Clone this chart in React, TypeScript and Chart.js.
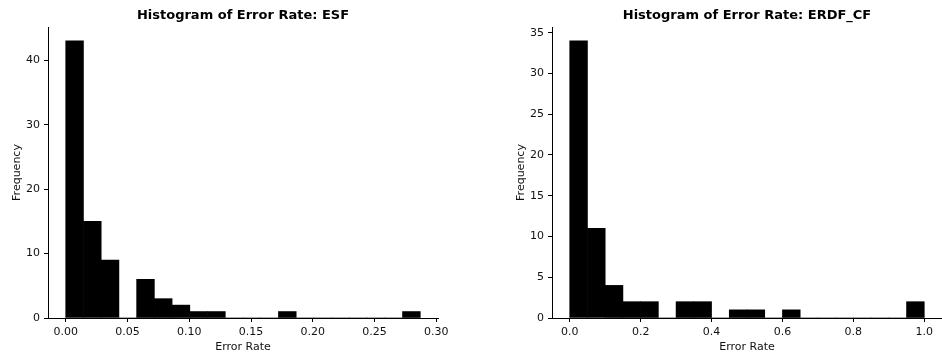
import React, { useEffect, useRef } from "react";
import { Chart, registerables } from "chart.js";
Chart.register(...registerables);

// ESF histogram (20 bins)
const esfBinStarts = [
  0.0, 0.01435, 0.0287, 0.04305, 0.0574, 0.07175, 0.0861, 0.10045, 0.1148, 0.12915,
  0.1435, 0.15785, 0.1722, 0.18655, 0.2009, 0.21525, 0.2296, 0.24395, 0.2583, 0.27265,
];
const esfBinWidth = 0.01435;
const esfCounts = [43, 15, 9, 0, 6, 3, 2, 1, 1, 0, 0, 0, 1, 0, 0, 0, 0, 0, 0, 1];
const esfXRange = [-0.01435, 0.30135];
const esfYMax = 45.15;

// ERDF_CF histogram (20 bins)
const erdfBinStarts = [
  0.0, 0.05, 0.1, 0.15, 0.2, 0.25, 0.3, 0.35, 0.4, 0.45,
  0.5, 0.55, 0.6, 0.65, 0.7, 0.75, 0.8, 0.85, 0.9, 0.95,
];
const erdfBinWidth = 0.05;
const erdfCounts = [34, 11, 4, 2, 2, 0, 2, 2, 0, 1, 1, 0, 1, 0, 0, 0, 0, 0, 0, 2];
const erdfXRange = [-0.05, 1.05];
const erdfYMax = 35.7;

const FONT = "'DejaVu Sans', sans-serif";

type HistProps = {
  title: string;
  starts: number[];
  width: number;
  counts: number[];
  xRange: number[];
  yMax: number;
  xStep: number;
  xDigits: number;
  yStep: number;
  padLeft: number;
  padRight: number;
};

function Histogram(p: HistProps) {
  const ref = useRef<HTMLCanvasElement | null>(null);
  useEffect(() => {
    if (!ref.current) return;
    const data = p.starts.map((s, i) => ({ x: s + p.width / 2, y: p.counts[i] }));
    const chart = new Chart(ref.current, {
      type: "bar",
      data: {
        datasets: [
          {
            data,
            backgroundColor: "#000000",
            borderWidth: 0,
            barPercentage: 1,
            categoryPercentage: 1,
          },
        ],
      },
      options: {
        animation: false,
        responsive: false,
        maintainAspectRatio: false,
        layout: { padding: { left: p.padLeft, right: p.padRight, top: 0, bottom: 0 } },
        plugins: {
          legend: { display: false },
          tooltip: { enabled: false },
          title: {
            display: true,
            text: p.title,
            fullSize: false,
            color: "#000",
            font: { family: FONT, size: 13, weight: "bold" },
            padding: { top: 7.5, bottom: 3.9 },
          },
        },
        scales: {
          x: {
            type: "linear",
            min: p.xRange[0],
            max: p.xRange[1],
            offset: false,
            afterFit: (s: any) => {
              s.height = 40;
            },
            grid: {
              offset: false,
              drawOnChartArea: false,
              drawTicks: true,
              tickLength: 4,
              color: "#000",
              tickWidth: 1,
            },
            border: { display: true, color: "#000", width: 1 },
            ticks: {
              stepSize: p.xStep,
              includeBounds: false,
              maxRotation: 0,
              autoSkip: false,
              color: "#111",
              padding: 4,
              font: { family: FONT, size: 11 },
              callback: (v: any) => Number(v).toFixed(p.xDigits),
            },
            title: {
              display: true,
              text: "Error Rate",
              color: "#111",
              font: { family: FONT, size: 11 },
              padding: { top: 0, bottom: 4.6 },
            },
          },
          y: {
            type: "linear",
            min: 0,
            max: p.yMax,
            afterFit: (s: any) => {
              s.width = 48;
            },
            grid: {
              drawOnChartArea: false,
              drawTicks: true,
              tickLength: 4,
              color: "#000",
              tickWidth: 1,
            },
            border: { display: true, color: "#000", width: 1 },
            ticks: {
              stepSize: p.yStep,
              includeBounds: false,
              color: "#111",
              padding: 4,
              font: { family: FONT, size: 11 },
            },
            title: {
              display: true,
              text: "Frequency",
              color: "#111",
              font: { family: FONT, size: 11 },
              padding: { top: 10.4, bottom: 0 },
            },
          },
        },
      } as any,
    });
    return () => chart.destroy();
  }, []);
  return (
    <canvas
      ref={ref}
      width={471}
      height={358}
      style={{ width: 471, height: 358, display: "block" }}
    />
  );
}

export default function App() {
  return (
    <div
      style={{
        position: "absolute",
        left: 0,
        top: 0,
        width: 942,
        height: 358,
        display: "flex",
        background: "#fff",
      }}
    >
      <Histogram
        title="Histogram of Error Rate: ESF"
        starts={esfBinStarts}
        width={esfBinWidth}
        counts={esfCounts}
        xRange={esfXRange}
        yMax={esfYMax}
        xStep={0.05}
        xDigits={2}
        yStep={10}
        padLeft={0}
        padRight={33}
      />
      <Histogram
        title="Histogram of Error Rate: ERDF_CF"
        starts={erdfBinStarts}
        width={erdfBinWidth}
        counts={erdfCounts}
        xRange={erdfXRange}
        yMax={erdfYMax}
        xStep={0.2}
        xDigits={1}
        yStep={5}
        padLeft={33}
        padRight={0}
      />
    </div>
  );
}
